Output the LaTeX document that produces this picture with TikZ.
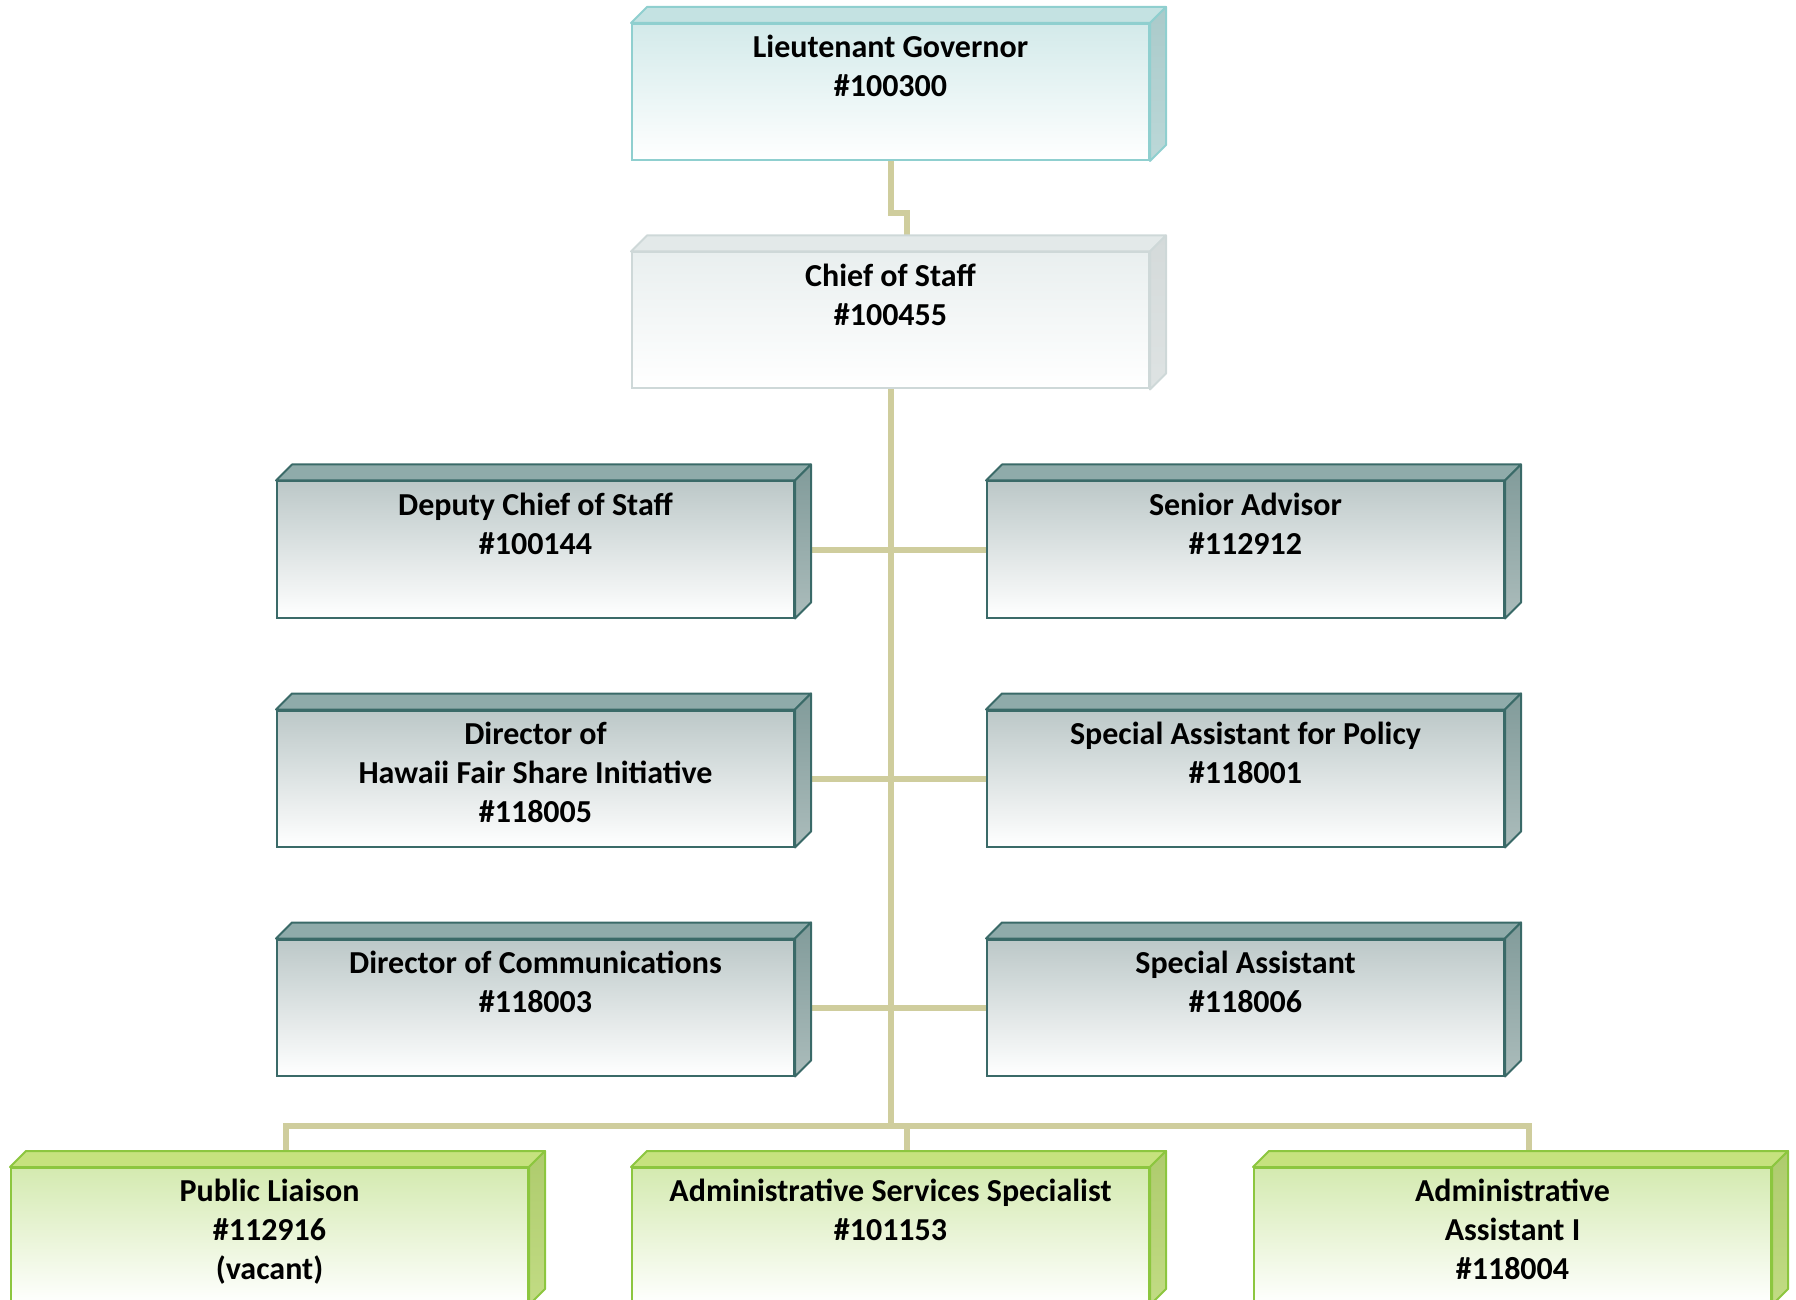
\documentclass[tikz,border=0pt]{standalone}
\usepackage{fontspec}
\setmainfont{Carlito}
\usetikzlibrary{positioning,backgrounds}

% colours per kind of post
\definecolor{govfront}{HTML}{D3EAEA}
\definecolor{govtop}{HTML}{C4E2E2}
\definecolor{govside}{HTML}{AACACA}
\definecolor{govsidelow}{HTML}{BCD8D8}
\definecolor{govline}{HTML}{8FCFCF}
\definecolor{cosfront}{HTML}{E9EFEF}
\definecolor{costop}{HTML}{E3E9E9}
\definecolor{cosside}{HTML}{D4DADA}
\definecolor{cossidelow}{HTML}{DEE3E3}
\definecolor{cosline}{HTML}{CED8D8}
\definecolor{stafffront}{HTML}{BCC8C8}
\definecolor{stafftop}{HTML}{8FABAA}
\definecolor{staffside}{HTML}{819B9A}
\definecolor{staffsidelow}{HTML}{ABBCBB}
\definecolor{staffline}{HTML}{3A6A68}
\definecolor{suppfront}{HTML}{D4EAB0}
\definecolor{supptop}{HTML}{C6E27E}
\definecolor{suppside}{HTML}{AECB6D}
\definecolor{suppsidelow}{HTML}{C2DC84}
\definecolor{suppline}{HTML}{8CC63F}
\definecolor{linkcol}{HTML}{CFCD9D}

\tikzset{
  post/.style={rectangle, minimum width=258.5pt, minimum height=68pt,
    inner sep=0pt, line width=1pt, bottom color=white},
  postext/.style={inner sep=0pt, align=center,
    font=\fontsize{16pt}{19.5pt}\selectfont\bfseries,
    execute at begin node=\strut},
  postedge/.style={line width=1pt, line join=round},
  link/.style={draw=linkcol, line width=3pt}
}

% box with its top and side faces: kind, name, centre, text
\newcommand{\post}[4]{%
  \node[post, draw=#1line, top color=#1front] (#2) at (#3) {};
  \node[postext, below=6pt of #2.north] (#2 text) {#4};
  \draw[#1line, fill=#1top, postedge] (#2.north west) -- ([shift={(8pt,8pt)}]#2.north west)
    -- ([shift={(8pt,8pt)}]#2.north east) -- (#2.north east) -- cycle;
  \draw[#1line, top color=#1side, bottom color=#1sidelow, postedge] (#2.north east)
    -- ([shift={(8pt,8pt)}]#2.north east) -- ([shift={(8pt,8pt)}]#2.south east)
    -- (#2.south east) -- cycle;
  \coordinate (#2 back) at ([shift={(8pt,8pt)}]#2.north);
}

\begin{document}
\begin{tikzpicture}[x=0.5pt, y=-0.5pt]
    \useasboundingbox (0,0) rectangle (1796,1300);

    \post{gov}{lg}{890.5,92}{Lieutenant Governor\\\#100300}
    \post{cos}{cos}{890.5,320.5}{Chief of Staff\\\#100455}

    \post{staff}{dcs}{535.5,549.5}{Deputy Chief of Staff\\\#100144}
    \post{staff}{adv}{1245.5,549.5}{Senior Advisor\\\#112912}
    \post{staff}{hfs}{535.5,778.5}{Director of\\Hawaii Fair Share Initiative\\\#118005}
    \post{staff}{pol}{1245.5,778.5}{Special Assistant for Policy\\\#118001}
    \post{staff}{com}{535.5,1007.5}{Director of Communications\\\#118003}
    \post{staff}{spa}{1245.5,1007.5}{Special Assistant\\\#118006}

    \post{supp}{pl}{269.5,1236}{Public Liaison\\\#112916\\(vacant)}
    \post{supp}{ass}{890.5,1236}{Administrative Services Specialist\\\#101153}
    \post{supp}{aa}{1512.5,1236}{Administrative\\Assistant I\\\#118004}

    \coordinate (bus) at (890.5,1126);

    \begin{scope}[on background layer]
      \draw[link] (lg.south) -- ++(0,52) -| (cos back);
      \draw[link] (cos.south) -- (bus);
      \draw[link] (dcs.east) -- (adv.west);
      \draw[link] (hfs.east) -- (pol.west);
      \draw[link] (com.east) -- (spa.west);
      \draw[link] (pl back) |- (bus) -| (aa back);
      \draw[link] (ass back) |- (bus);
    \end{scope}
\end{tikzpicture}
\end{document}
